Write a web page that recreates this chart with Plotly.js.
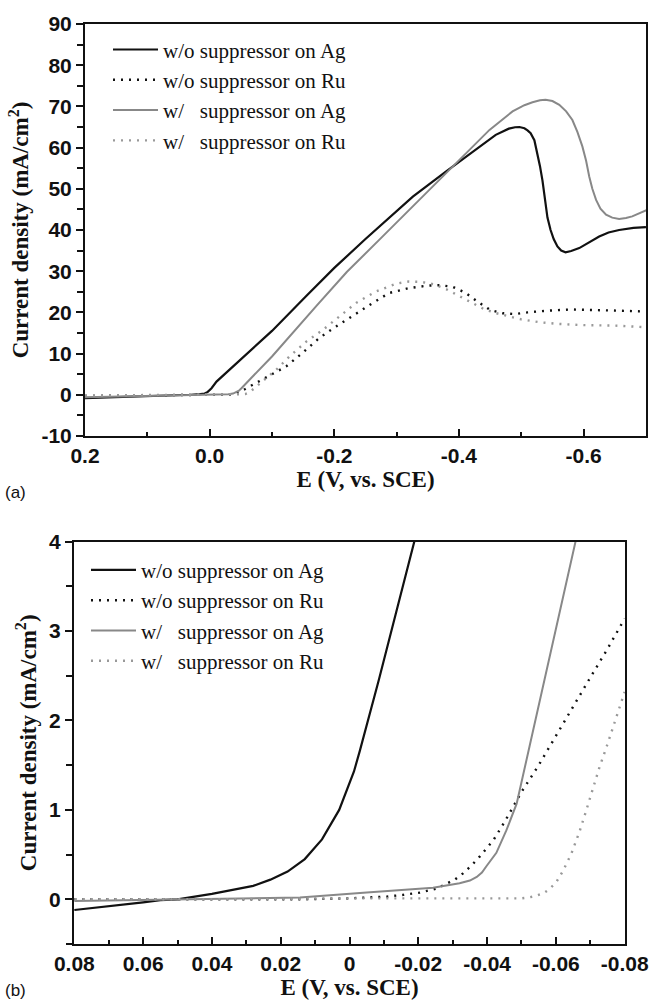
<!DOCTYPE html>
<html>
<head>
<meta charset="utf-8">
<script src="https://cdn.plot.ly/plotly-3.0.1.min.js"></script>
<style>html,body{margin:0;padding:0;background:#fff;}#chart{width:649px;height:1001px;}</style>
</head>
<body>
<div id="chart"></div>
<script>
// ---------- Data: panel (a) ----------
const seriesNames = ["w/o suppressor on Ag", "w/o suppressor on Ru", "w/\u00A0\u00A0\u00A0suppressor on Ag", "w/\u00A0\u00A0\u00A0suppressor on Ru"];

const aAgNoE = [0.2, 0.1, 0.03, 0.015, 0.008, 0.003, -0.003, -0.011, -0.05, -0.1, -0.155, -0.2, -0.25, -0.272, -0.326, -0.379, -0.422, -0.459, -0.48, -0.49, -0.497, -0.505, -0.51, -0.515, -0.521, -0.526, -0.530, -0.534, -0.538, -0.542, -0.547, -0.552, -0.558, -0.564, -0.571, -0.58, -0.593, -0.61, -0.625, -0.64, -0.657, -0.68, -0.70];
const aAgNoJ = [-0.8, -0.4, 0.0, 0.15, 0.3, 0.7, 1.6, 3.2, 8.5, 15.5, 24.0, 30.8, 37.8, 40.8, 48.1, 54.2, 59.1, 63.1, 64.6, 64.95, 65.0, 64.7, 64.2, 63.5, 61.8, 58.7, 55.5, 52.0, 47.0, 43.0, 40.0, 37.8, 36.0, 35.0, 34.6, 34.9, 35.6, 37.0, 38.4, 39.4, 40.0, 40.5, 40.7];

const aRuNoE = [0.2, 0.1, 0.0, -0.035, -0.042, -0.05, -0.057, -0.064, -0.094, -0.123, -0.15, -0.176, -0.203, -0.235, -0.262, -0.288, -0.32, -0.35, -0.37, -0.39, -0.41, -0.43, -0.45, -0.47, -0.49, -0.51, -0.54, -0.58, -0.62, -0.66, -0.70];
const aRuNoJ = [-0.3, -0.2, 0.0, 0.05, 0.25, 0.8, 1.4, 2.0, 4.4, 6.9, 10.3, 13.8, 16.6, 19.8, 22.3, 24.7, 25.9, 26.5, 26.6, 26.2, 24.8, 22.6, 20.6, 19.8, 19.6, 20.0, 20.4, 20.7, 20.6, 20.4, 20.2];

const aAgWE = [0.2, 0.1, 0.0, -0.03, -0.0375, -0.043, -0.047, -0.051, -0.06, -0.1, -0.171, -0.22, -0.272, -0.326, -0.379, -0.417, -0.449, -0.486, -0.505, -0.518, -0.53, -0.539, -0.55, -0.561, -0.572, -0.582, -0.590, -0.598, -0.604, -0.609, -0.614, -0.620, -0.627, -0.636, -0.646, -0.657, -0.668, -0.678, -0.69, -0.702];
const aAgWJ = [-0.6, -0.3, 0.0, 0.15, 0.3, 0.6, 1.0, 1.6, 3.0, 9.3, 21.5, 29.8, 37.6, 45.7, 53.8, 59.5, 64.3, 68.8, 70.3, 71.0, 71.5, 71.6, 71.3, 70.4, 68.8, 66.7, 63.8, 60.3, 56.8, 53.0, 50.0, 47.3, 45.2, 43.7, 43.0, 42.7, 42.9, 43.3, 44.0, 44.9];

const aRuWE = [0.2, 0.1, 0.0, -0.05, -0.057, -0.064, -0.072, -0.08, -0.107, -0.128, -0.155, -0.182, -0.208, -0.235, -0.267, -0.30, -0.32, -0.34, -0.36, -0.38, -0.40, -0.42, -0.44, -0.46, -0.48, -0.50, -0.53, -0.56, -0.60, -0.65, -0.70];
const aRuWJ = [-0.2, -0.1, 0.0, 0.0, 0.15, 0.6, 1.6, 2.8, 6.1, 9.3, 12.9, 15.8, 19.0, 22.3, 25.1, 27.0, 27.5, 27.4, 26.8, 25.6, 24.0, 22.3, 20.8, 19.8, 19.0, 18.3, 17.6, 17.2, 16.9, 16.8, 16.4];

// ---------- Data: panel (b) ----------
const bAgNoE = [0.08, 0.07, 0.06, 0.055, 0.05, 0.04, 0.033, 0.028, 0.023, 0.018, 0.013, 0.008, 0.003, -0.0013, -0.003, -0.0085, -0.0137, -0.0185, -0.0195];
const bAgNoJ = [-0.12, -0.08, -0.035, -0.01, 0.0, 0.06, 0.11, 0.15, 0.22, 0.31, 0.45, 0.67, 1.0, 1.43, 1.66, 2.45, 3.23, 3.95, 4.1];

const bRuNoE = [0.08, 0.04, 0.0144, 0.0, -0.0108, -0.0156, -0.0205, -0.0253, -0.0306, -0.033, -0.0355, -0.0379, -0.0418, -0.045, -0.05, -0.055, -0.06, -0.065, -0.07, -0.075, -0.08];
const bRuNoJ = [0.0, 0.0, 0.0, 0.01, 0.03, 0.05, 0.075, 0.12, 0.22, 0.29, 0.38, 0.48, 0.66, 0.86, 1.2, 1.5, 1.83, 2.15, 2.48, 2.80, 3.14];

const bAgWE = [0.08, 0.06, 0.04, 0.0144, -0.005, -0.0147, -0.0243, -0.032, -0.035, -0.037, -0.0385, -0.0398, -0.041, -0.0427, -0.0456, -0.0486, -0.0524, -0.0573, -0.0621, -0.0655, -0.066];
const bAgWJ = [-0.02, -0.01, 0.0, 0.02, 0.075, 0.10, 0.13, 0.18, 0.21, 0.25, 0.30, 0.37, 0.43, 0.52, 0.77, 1.07, 1.72, 2.56, 3.38, 3.97, 4.05];

const bRuWE = [0.08, 0.04, 0.0, -0.03, -0.05, -0.052, -0.054, -0.0565, -0.058, -0.0601, -0.0621, -0.0645, -0.0669, -0.0688, -0.0708, -0.0727, -0.0747, -0.0766, -0.0785, -0.0795, -0.08];
const bRuWJ = [0.0, 0.0, 0.01, 0.01, 0.01, 0.02, 0.035, 0.07, 0.11, 0.19, 0.32, 0.51, 0.76, 0.99, 1.25, 1.48, 1.70, 1.92, 2.15, 2.26, 2.32];

// ---------- Ticks ----------
const aXTickVals = [0.2, 0.0, -0.2, -0.4, -0.6];
const aXTickText = ["0.2", "0.0", "-0.2", "-0.4", "-0.6"];
const aXMinor = [0.1, -0.1, -0.3, -0.5];
const aYTickVals = [90, 80, 70, 60, 50, 40, 30, 20, 10, 0, -10];
const aYTickText = ["90", "80", "70", "60", "50", "40", "30", "20", "10", "0", "-10"];
const aYMinor = [85, 75, 65, 55, 45, 35, 25, 15, 5, -5];
const bXTickVals = [0.08, 0.06, 0.04, 0.02, 0, -0.02, -0.04, -0.06, -0.08];
const bXTickText = ["0.08", "0.06", "0.04", "0.02", "0", "-0.02", "-0.04", "-0.06", "-0.08"];
const bXMinor = [0.07, 0.05, 0.03, 0.01, -0.01, -0.03, -0.05, -0.07];
const bYTickVals = [4, 3, 2, 1, 0];
const bYTickText = ["4", "3", "2", "1", "0"];
const bYMinor = [3.5, 2.5, 1.5, 0.5, -0.5];

const xTitleText = "E (V, vs. SCE)";
const yTitleText = "Current density (mA/cm<sup>2</sup>)";

// ---------- Styles ----------
const BLACK = "#111111", GREY = "#888888", GREYDOT = "#999999";
const DOTS = "2px,6px";
function tr(x, y, name, color, dash, width, xa, ya, leg) {
  return {x: x, y: y, name: name, type: "scatter", mode: "lines", xaxis: xa, yaxis: ya,
    legend: leg, line: {color: color, dash: dash, width: width}};
}
const data = [
  tr(aAgNoE, aAgNoJ, seriesNames[0], BLACK, "solid", 2.2, "x", "y", "legend"),
  tr(aRuNoE, aRuNoJ, seriesNames[1], BLACK, DOTS, 2.4, "x", "y", "legend"),
  tr(aAgWE, aAgWJ, seriesNames[2], GREY, "solid", 2.0, "x", "y", "legend"),
  tr(aRuWE, aRuWJ, seriesNames[3], GREYDOT, DOTS, 2.4, "x", "y", "legend"),
  tr(bAgNoE, bAgNoJ, seriesNames[0], BLACK, "solid", 2.2, "x2", "y2", "legend2"),
  tr(bRuNoE, bRuNoJ, seriesNames[1], BLACK, DOTS, 2.4, "x2", "y2", "legend2"),
  tr(bAgWE, bAgWJ, seriesNames[2], GREY, "solid", 2.0, "x2", "y2", "legend2"),
  tr(bRuWE, bRuWJ, seriesNames[3], GREYDOT, DOTS, 2.4, "x2", "y2", "legend2")
];

const tickFont = {family: "Liberation Sans, Arial, sans-serif", size: 21, color: "#111", weight: "bold"};
const titleFont = {family: "Liberation Serif, Times New Roman, serif", size: 23, color: "#111", weight: "bold"};
const legFont = {family: "Liberation Serif, Times New Roman, serif", size: 21, color: "#111"};

function xAxis(dom, range, tv, tt, minor, anchor) {
  return {domain: dom, range: range, anchor: anchor, tickmode: "array", tickvals: tv, ticktext: tt,
    ticks: "inside", ticklen: 7, tickwidth: 2, tickcolor: "#111",
    minor: {tickmode: "array", tickvals: minor, ticks: "inside", ticklen: 4, tickwidth: 2, tickcolor: "#111", showgrid: false},
    showline: true, linewidth: 2, linecolor: "#111", mirror: true, showgrid: false, zeroline: false,
    tickfont: tickFont,
    title: {text: xTitleText, font: titleFont, standoff: 4}, automargin: false, fixedrange: true};
}
function yAxis(dom, range, tv, tt, minor, anchor) {
  return {domain: dom, range: range, anchor: anchor, tickmode: "array", tickvals: tv, ticktext: tt,
    ticks: "outside", ticklen: 7, tickwidth: 2, tickcolor: "#111",
    minor: {tickmode: "array", tickvals: minor, ticks: "outside", ticklen: 6, tickwidth: 2, tickcolor: "#111", showgrid: false},
    showline: true, linewidth: 2, linecolor: "#111", mirror: true, showgrid: false, zeroline: false,
    tickfont: tickFont,
    title: {text: yTitleText, font: titleFont, standoff: 6}, automargin: false, fixedrange: true};
}

const layout = {
  width: 649, height: 1001,
  margin: {l: 0, r: 0, t: 0, b: 0},
  paper_bgcolor: "#fff", plot_bgcolor: "#fff",
  showlegend: true,
  xaxis: xAxis([85/649, 646/649], [0.2, -0.7001], aXTickVals, aXTickText, aXMinor, "y"),
  yaxis: yAxis([1 - 436/1001, 1 - 24/1001], [-10.01, 90.01], aYTickVals, aYTickText, aYMinor, "x"),
  xaxis2: xAxis([74/649, 625/649], [0.0801, -0.0801], bXTickVals, bXTickText, bXMinor, "y2"),
  yaxis2: yAxis([1 - 944/1001, 1 - 541.6/1001], [-0.5, 4.001], bYTickVals, bYTickText, bYMinor, "x2"),
  legend: {x: 108/649, y: 0.9707, xanchor: "left", yanchor: "top", bgcolor: "rgba(0,0,0,0)", borderwidth: 0, font: legFont, itemwidth: 45},
  legend2: {x: 86/649, y: 0.4508, xanchor: "left", yanchor: "top", bgcolor: "rgba(0,0,0,0)", borderwidth: 0, font: legFont, itemwidth: 45},
  annotations: [
    {text: "(a)", xref: "paper", yref: "paper", x: 3/649, y: 1 - 492/1001, xanchor: "left", yanchor: "middle", showarrow: false,
     font: {family: "Liberation Sans, Arial, sans-serif", size: 17, color: "#111"}},
    {text: "(b)", xref: "paper", yref: "paper", x: 3/649, y: 1 - 990/1001, xanchor: "left", yanchor: "middle", showarrow: false,
     font: {family: "Liberation Sans, Arial, sans-serif", size: 17, color: "#111"}}
  ]
};

Plotly.newPlot("chart", data, layout, {displayModeBar: false, staticPlot: true});
</script>
</body>
</html>
